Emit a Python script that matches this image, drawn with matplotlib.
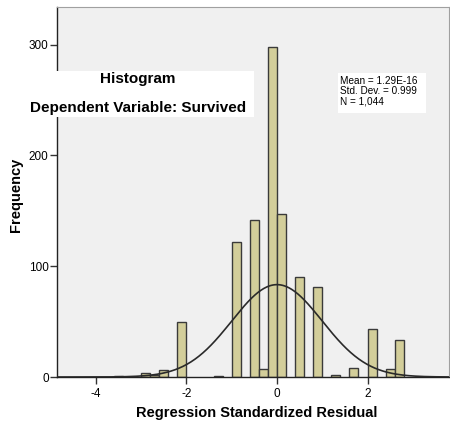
import numpy as np
import matplotlib
matplotlib.use("Agg")
import matplotlib.pyplot as plt
from matplotlib.patches import Rectangle

# Data
bin_left = [-3.6, -3.0, -2.8, -2.6, -2.2, -1.4, -1.0, -0.6, -0.4, -0.2, 0.0, 0.4, 0.8, 1.2, 1.6, 2.0, 2.4, 2.6]
counts = [1, 4, 2, 6, 50, 1, 122, 142, 7, 298, 147, 90, 81, 2, 8, 43, 7, 33]
bin_width = 0.2
mean_val = 1.29e-16
std_val = 0.999
n_val = 1044
xticks = [-4, -2, 0, 2]
yticks = [0, 100, 200, 300]

W, H = 450, 423
fig = plt.figure(figsize=(4.5, 4.23), dpi=100)
plt.rcParams['font.family'] = ['Liberation Sans', 'DejaVu Sans']

ax = fig.add_axes([57 / W, 1 - 377 / H, (449 - 57) / W, (377 - 7) / H])
ax.set_facecolor('#f0f0f0')
ax.bar(bin_left, counts, width=bin_width, align='edge', color='#d3ce9a',
       edgecolor='#3a3a3a', linewidth=1.0, zorder=2)

xs = np.linspace(-4.9, 3.9, 400)
curve = n_val * bin_width / (std_val * np.sqrt(2 * np.pi)) * np.exp(-0.5 * ((xs - mean_val) / std_val) ** 2)
ax.plot(xs, curve, color='#2a2a2a', linewidth=1.2, zorder=3)

ax.set_xlim(-4.86, 3.8)
ax.set_ylim(0, 334)
ax.set_xticks(xticks)
ax.set_xticklabels([str(t) for t in xticks])
ax.set_yticks(yticks)
ax.set_yticklabels([str(t) for t in yticks])
ax.tick_params(axis='both', direction='out', length=5, width=1, labelsize=8.5, color='#333333')
ax.tick_params(axis='x', pad=3)
ax.tick_params(axis='y', pad=1)

for side in ['top', 'right']:
    ax.spines[side].set_color('#a0a0a0')
    ax.spines[side].set_linewidth(0.8)
for side in ['left', 'bottom']:
    ax.spines[side].set_color('#222222')
    ax.spines[side].set_linewidth(1.0)

fig.text(257 / W, 1 - 413 / H, 'Regression Standardized Residual', ha='center', va='center',
         fontsize=10.5, fontweight='bold')
fig.text(16 / W, 1 - 195 / H, 'Frequency', ha='center', va='center', rotation=90,
         fontsize=10.5, fontweight='bold')

# Title box overlapping the axes
fig.patches.append(Rectangle((50 / W, 1 - 117 / H), (254 - 50) / W, (117 - 71) / H,
                             transform=fig.transFigure, facecolor='white', edgecolor='none', zorder=5))
fig.text(138 / W, 1 - 79 / H, 'Histogram', ha='center', va='center', fontsize=11,
         fontweight='bold', zorder=6)
fig.text(138 / W, 1 - 108 / H, 'Dependent Variable: Survived', ha='center', va='center',
         fontsize=11, fontweight='bold', zorder=6)

# Statistics box
fig.patches.append(Rectangle((338 / W, 1 - 113 / H), (426 - 338) / W, (113 - 73) / H,
                             transform=fig.transFigure, facecolor='white', edgecolor='none', zorder=5))
stats = 'Mean = 1.29E-16\nStd. Dev. = 0.999\nN = 1,044'
fig.text(340 / W, 1 - 76 / H, stats, ha='left', va='top', fontsize=7.2, linespacing=1.0, zorder=6)

fig.savefig('out.png', dpi=100)
